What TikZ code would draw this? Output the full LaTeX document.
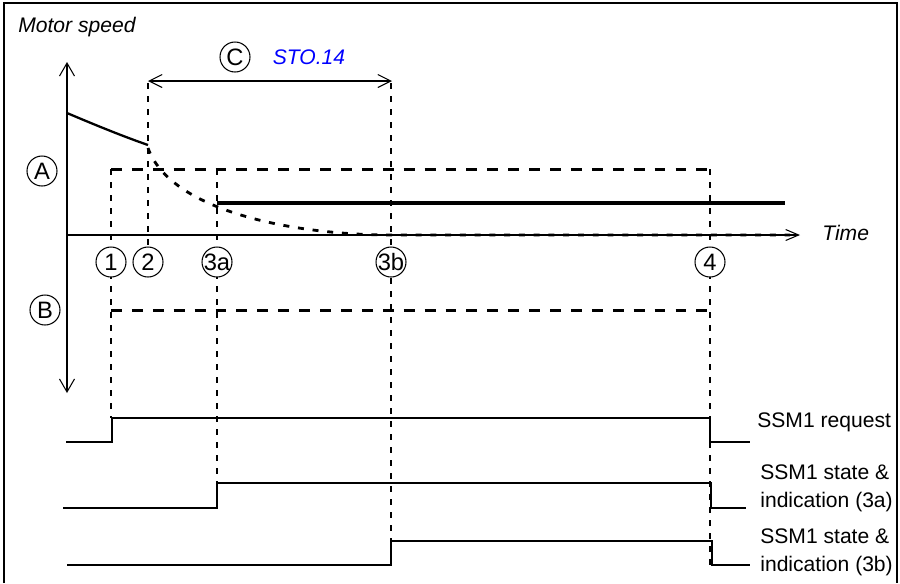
\documentclass[tikz,border=0pt]{standalone}
\usepackage{fontspec}
\setmainfont{Liberation Sans}
\usetikzlibrary{arrows.meta, positioning}
\tikzset{
    frame/.style={line width=0.6pt},
    axis/.style={line width=0.6pt, {Straight Barb[length=2.6mm, width=3mm]}-{Straight Barb[length=2.6mm, width=3mm]}},
    timeaxis/.style={line width=0.6pt, -{Straight Barb[length=2.6mm, width=2.2mm]}},
    span/.style={line width=0.6pt, {Straight Barb[length=2.6mm, width=2.6mm]}-{Straight Barb[length=2.6mm, width=2.6mm]}},
    guide/.style={line width=0.6pt, dash pattern=on 3.4pt off 4pt},
    window/.style={line width=1.7pt, dash pattern=on 6.2pt off 5.7pt},
    speed/.style={line width=1.3pt},
    decay/.style={line width=1.6pt, dash pattern=on 3.4pt off 5pt},
    limit/.style={line width=1.8pt},
    signal/.style={line width=0.6pt},
    marker/.style={circle, draw, line width=0.6pt, fill=white, inner sep=-2pt, minimum size=0.6cm, font=\fontsize{13.5}{14}\selectfont},
    axlabel/.style={inner sep=0pt, font=\fontsize{12}{14}\selectfont\itshape},
    stolabel/.style={inner sep=0pt, text=blue, font=\fontsize{12}{14}\selectfont\itshape},
    siglabel/.style={anchor=west, inner sep=0pt, align=left, font=\fontsize{12}{16}\selectfont}
}

\begin{document}
\begin{tikzpicture}[x=0.02cm, y=-0.02cm]
    \useasboundingbox (0,0) rectangle (900,583);
    \draw [frame] (4,583) -- (4,3) -- (897,3) -- (897,583);

    \foreach \x/\ya/\yb in {111/169/418, 148/83/262, 217/169/483, 391/83/541, 710/169/565}
        \draw [guide] (\x,\ya) -- (\x,\yb);

    \coordinate (tend) at (800,235);
    \draw [axis] (67,62) -- (67,393);
    \draw [timeaxis] (67,235) -- (tend);

    \draw [speed] (67,113) .. controls (100,127) and (125,137) .. (148,145);
    \draw [decay] (148,148) .. controls (170,210) and (290,235) .. (392,235) -- (790,235);
    \draw [limit] (217,203) -- (785,203);
    \draw [window] (111,169) -- (710,169);
    \draw [window] (111,310) -- (710,310);
    \draw [span] (148,81) -- (392,81);

    \foreach \x/\t in {111/1, 148/2, 217/3a, 391/3b, 710/4}
        \node (m\t) [marker] at (\x,262) {\t};
    \node (markA) [marker] at (42,171) {A};
    \node (markB) [marker] at (45,310) {B};
    \node (markC) [marker] at (235,57) {C};
    \node (sto) [stolabel, right=4.4mm of markC] {STO.14};

    \node (ylabel) [axlabel, anchor=west] at (18,27) {Motor speed};
    \node (xlabel) [axlabel, right=4.4mm of tend, yshift=0.5mm] {Time};

    \draw [signal] (66,442) -- (112,442) -- (112,418) -- (710,418) -- (710,442) -- (750,442);
    \draw [signal] (63,508) -- (217,508) -- (217,483) -- (711,483) -- (711,508) -- (746,508);
    \draw [signal] (67,565) -- (391,565) -- (391,541) -- (712,541) -- (712,565) -- (750,565);

    \node (req) [siglabel] at (757,422) {SSM1 request};
    \node (st3a) [siglabel] at (760,488) {SSM1 state \&\\indication (3a)};
    \node (st3b) [siglabel] at (760,552) {SSM1 state \&\\indication (3b)};
\end{tikzpicture}
\end{document}
